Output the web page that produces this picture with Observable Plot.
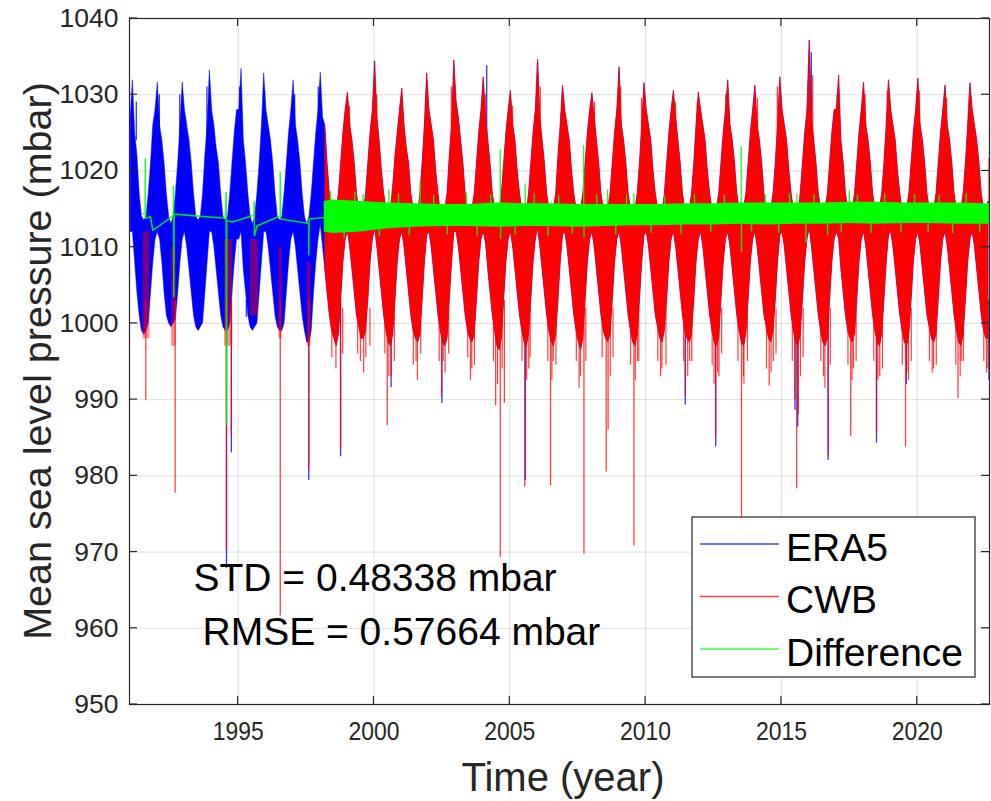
<!DOCTYPE html>
<html><head><meta charset="utf-8">
<script src="https://cdn.jsdelivr.net/npm/d3@7"></script>
<script src="https://cdn.jsdelivr.net/npm/@observablehq/plot@0.6"></script>
<style>body{margin:0;background:#fff}#chart{width:991px;height:801px}</style>
</head><body><div id="chart"></div>
<script>
// ---------- tick labels / texts ----------
const xTicks = [1995, 2000, 2005, 2010, 2015, 2020];
const yTicks = [950, 960, 970, 980, 990, 1000, 1010, 1020, 1030, 1040];
const xLabel = "Time (year)";
const yLabel = "Mean sea level pressure (mbar)";
const statLines = ["STD = 0.48338 mbar", "RMSE = 0.57664 mbar"];
const seriesNames = ["ERA5", "CWB", "Difference"];

// ---------- ERA5 before CWB record (monthly upper / lower envelope, Jan..Dec) ----------
const era5Years = [1991, 1992, 1993, 1994, 1995, 1996, 1997, 1998];
const era5Hi = [
  [1027,1031.9,1025,1022,1017,1014,1013.5,1014,1017,1021,1026,1028],
  [1031.6,1026,1024,1021,1017,1014,1013,1014,1017,1021,1026,1031.6],
  [1028,1026,1024,1021,1017,1014,1013.5,1014,1017,1022,1026,1033.2],
  [1028,1026,1023,1021,1017,1014,1013.5,1014,1017,1021,1025,1028],
  [1028,1033.4,1024,1021,1017,1014,1013,1014,1017,1021,1026,1032.8],
  [1028,1026,1024,1021,1017,1014,1013.5,1014,1017,1021,1025,1028],
  [1031.9,1026,1024,1021,1017,1014,1013,1014,1017,1021,1025,1028],
  [1032.9,1027]
];
const era5Lo = [
  [1012,1012,1008,1004,1001,999,998.5,999,1000,1004,1008,1011],
  [1012,1011,1008,1004,1001,1000,999.5,1000,1000.5,1004,1008,1011],
  [1012,1010,1007,1004,1001,999.5,999,999.5,1000,1004,1008,1012],
  [1012,1010,1007,1004,1001,999.5,999,999,1000,1004,1008,1011],
  [1011,1012,1007,1004,1001,999.5,999,999.5,1000,1004,1008,1012],
  [1012,1010,1007,1004,1001,999.5,999,999,1000,1004,1008,1011],
  [1012,1010,1007,1004,1001,999,997.5,997.5,999,1004,1008,1011],
  [1013,1010]
];
// ERA5 extremes that reach beyond CWB: [year, mbar]
const era5Spikes = [[1991.55,1001],[1992.5,1002],[1993.4,1001],[1993.55,1000],[1994.57,967.8],[1994.75,983.0],
  [1995.3,1000.8],[1995.5,1002],[1996.5,1002],[1997.55,999.6],[1997.6,979.4],[1998.77,982.5],[2000.63,991.6],
  [2002.5,989.5],[2005.57,979.4],[2011.46,989.3],[2012.58,983.8],[2015.5,988.6],[2015.6,986.4],[2016.72,982.0],
  [2018.5,984.3],[2019.6,992.0],[2022.64,992.5]];
const era5Peaks = [[1991.25,1029],[1992.1,1030],[1992.85,1030],[1993.85,1031],[1995.05,1031],[1995.97,1030.5],
  [1997.08,1030],[1997.95,1031],[2000.02,1034.4],[2004.15,1033.8],[2006.02,1034.2],[2016.1,1035.5]];

// ---------- CWB (monthly upper / lower envelope, Jan..Dec) ----------
const cwbYears = [1998,1999,2000,2001,2002,2003,2004,2005,2006,2007,2008,2009,2010,2011,2012,2013,2014,2015,2016,2017,2018,2019,2020,2021,2022];
const cwbHi = [
  [null,null,1026,1021,1017,1015,1014,1015,1017,1021,1025,1028],
  [1030.3,1026,1024,1021,1017,1014.5,1014,1014.5,1017,1021,1025,1028],
  [1034.2,1027,1024,1020,1017,1015,1014,1015,1018,1022,1025,1028],
  [1030.8,1026,1023,1021,1017,1015,1014,1014.5,1017,1021,1026,1032.8],
  [1028,1026,1024,1020,1017,1014.5,1014,1015,1017,1022,1026,1034.5],
  [1029,1027,1024,1021,1017,1015,1014,1015,1017,1021,1025,1028],
  [1032.3,1027,1024,1021,1017,1015,1014.5,1015,1017,1021,1025,1028],
  [1030.5,1026,1024,1020,1017,1015,1014,1014.5,1017,1021,1025,1028],
  [1034.6,1027,1024,1021,1017,1015,1014,1015,1017,1022,1026,1031.2],
  [1028,1026,1024,1020,1017,1015,1014,1015,1017,1021,1025,1028],
  [1030.2,1027,1024,1021,1017,1015,1014,1015,1017,1021,1025,1028],
  [1033.6,1026,1024,1021,1017,1015,1014,1015,1017,1021,1026,1031.5],
  [1028,1026,1024,1020,1017,1015,1014,1014.5,1017,1021,1025,1028],
  [1030.5,1027,1024,1021,1017,1015,1014,1015,1017,1021,1026,1030.3],
  [1028,1026,1024,1020,1017,1015,1014,1015,1017,1021,1025,1028],
  [1031.9,1026,1024,1021,1017,1015,1014,1015,1017,1021,1025,1028],
  [1031.2,1026,1024,1021,1017,1015,1014,1015,1017,1021,1026,1032.3],
  [1028,1026,1024,1020,1017,1015,1014,1014.5,1017,1021,1025,1028],
  [1037.1,1027,1024,1021,1017,1015,1014,1015,1017,1021,1025,1028],
  [1028,1032.5,1024,1021,1017,1015,1014,1015,1017,1021,1025,1028],
  [1031.6,1026,1024,1021,1017,1015,1014,1015,1017,1021,1026,1031.9],
  [1028,1026,1024,1020,1017,1015,1014,1015,1017,1021,1025,1028],
  [1032.1,1026,1024,1021,1017,1015,1014,1015,1017,1021,1025,1028],
  [1031.2,1026,1024,1021,1017,1015,1014,1015,1017,1021,1026,1031.5],
  [1028,1026,1024,1021,1017,1015,1014.5,1016,null,null,null,null]
];
const cwbLo = [
  [null,null,1007,1004,1001,999,998,997,998.5,1003,1008,1011],
  [1012,1010,1007,1004,1001,999.5,998,998,999,1003,1008,1011],
  [1012.5,1010,1007,1004,1001,999,997.5,997,998.5,1003,1008,1011],
  [1012,1010,1007,1004,1001,999,998,997.5,998.5,1003,1008,1011.5],
  [1012,1010,1007,1004,1001,999,997.5,997,998,1003,1008,1012],
  [1012,1010,1007,1004,1001,999,998,997.5,998.5,1003,1008,1011],
  [1012,1010.5,1007,1004,1001,999,997,996.5,998,1003,1008,1011],
  [1012,1010,1007,1004,1001,999,997.5,997,998.5,1003,1008,1011],
  [1012.5,1010,1007,1004,1001,999,997.5,997,998.5,1003,1008,1011.5],
  [1012,1010,1007,1004,1001,999,997.5,996.5,998,1003,1008,1011],
  [1012,1010,1007,1004,1001,999,998,997.5,998.5,1003,1008,1011],
  [1012,1010,1007,1004,1001,999,997.5,997,998.5,1003,1008,1011.5],
  [1012,1010,1007,1004,1001,999.5,998,997.5,999,1003,1008,1011],
  [1012,1010,1007,1004,1001,999,998,997.5,998.5,1003,1008,1011],
  [1012,1010,1007,1004,1001,999,997.5,997,998,1003,1008,1011],
  [1012,1010,1007,1004,1001,999,997.5,997,998.5,1003,1008,1011],
  [1012,1010,1007,1004,1001,999.5,998,997.5,999,1003,1008,1011.5],
  [1012,1010,1007,1004,1001,999,997.5,997,998.5,1003,1008,1011],
  [1012.5,1010,1007,1004,1001,999,997.5,997,998,1003,1008,1011],
  [1012,1011,1007,1004,1001,999,998,997.5,998.5,1003,1008,1011],
  [1012,1010,1007,1004,1001,999,997.5,997,998.5,1003,1008,1011.5],
  [1012,1010,1007,1004,1001,999,997.5,997,998.5,1003,1008,1011],
  [1012,1010,1007,1004,1001,999.5,998,997.5,998.5,1003,1008,1011],
  [1012,1010,1007,1004,1001,999,997.5,997,998.5,1003,1008,1011],
  [1012,1010,1007,1004,1001,999,998,998,null,null,null,null]
];
// sparse CWB records before 1998: [start, end, low, high]
const cwbEarly = [[1991.50,1991.75,998,1012],[1992.55,1992.72,997,1010],[1994.50,1994.80,997,1011],
  [1995.45,1995.75,1001,1011],[1996.50,1996.62,998,1010],[1997.55,1997.68,997,1008]];
// CWB typhoon dips: [year, mbar]
const cwbSpikes = [[1991.6,989.9],[1992.68,977.7],[1994.57,970.2],[1994.75,985.3],[1996.55,961.6],[1997.6,980.7],
  [1998.77,983.6],[1999.5,995],[2000.49,986.6],[2000.63,993],[2001.55,995],[2002.49,990.3],[2002.55,995],[2003.6,994],
  [2004.48,989.2],[2004.65,969.3],[2004.8,989.5],[2005.55,978.5],[2005.7,994],[2006.5,978.7],[2006.6,995],
  [2007.6,993],[2007.73,969.7],[2008.55,980.5],[2008.62,986],[2009.57,970.8],[2009.7,995],[2010.6,994],
  [2011.46,990.5],[2011.7,995],[2012.58,985],[2012.7,993],[2013.53,973],[2013.6,993],[2014.55,991.8],[2014.7,995],
  [2015.5,990],[2015.56,978.3],[2015.62,988],[2016.55,993],[2016.72,982.6],[2017.55,985.2],[2017.65,994],
  [2018.5,985.5],[2018.62,993],[2019.57,983.8],[2019.62,993.5],[2020.6,994],[2021.5,990.1],[2021.62,995],[2022.6,994]];
// CWB smaller dips below the seasonal trough: [year, mbar]
const cwbDips = [[1998.45,995.5],[1998.6,994],[1998.85,996],[1999.4,996],[1999.62,993.5],[1999.7,995.5],[1999.85,997],
  [2000.4,996],[2000.55,993],[2000.75,995],[2001.45,994.5],[2001.6,992.5],[2001.72,996],[2002.4,995],[2002.62,993.5],
  [2002.75,996],[2003.45,995.5],[2003.55,992.5],[2003.7,994.5],[2004.4,995],[2004.55,992],[2004.72,994],
  [2005.45,995],[2005.62,992.5],[2005.75,995.5],[2006.4,995],[2006.55,992.5],[2006.7,994.5],[2007.45,995],
  [2007.55,991.5],[2007.8,995],[2008.4,995.5],[2008.7,993],[2008.8,995.5],[2009.45,994.5],[2009.62,992.5],
  [2009.75,995],[2010.45,995],[2010.55,993],[2010.75,994.5],[2011.4,995],[2011.55,993],[2011.62,995],
  [2012.45,994.5],[2012.52,992],[2012.65,993.5],[2012.8,996],[2013.4,995],[2013.62,992],[2013.75,995],
  [2014.45,994],[2014.62,993.5],[2014.8,996],[2015.4,995],[2015.7,993],[2015.8,995.5],[2016.45,995],
  [2016.6,991.5],[2016.8,994.5],[2017.45,994.5],[2017.6,992.5],[2017.75,995],[2018.4,995],[2018.55,992.5],
  [2018.72,994],[2019.45,994.5],[2019.68,992.5],[2019.78,995],[2020.45,995],[2020.55,993.5],[2020.7,994.5],
  [2021.42,994.5],[2021.58,993],[2021.7,995],[2022.45,995],[2022.55,993.5]];
// CWB needles near the winter maxima: [year, mbar]
const cwbUpSpikes = [[1999.1,1028.5],[2000.1,1030],[2001.9,1029],[2002.85,1031],[2004.1,1030],[2005.1,1028.5],
  [2006.12,1031],[2006.92,1029],[2008.12,1029],[2009.08,1031],[2009.85,1029.5],[2011.1,1029],[2011.9,1029],
  [2012.95,1030],[2014.12,1029.5],[2014.85,1031],[2016.15,1032.5],[2017.05,1030],[2018.08,1030],[2018.9,1030.5],
  [2020.08,1030.5],[2021.08,1029.5],[2021.92,1030],[2022.64,1021.6]];

// ---------- Difference (offset to ~1014 mbar) ----------
const diffEarly = [[1991.50,1014.4],[1991.58,1014.4],[1991.58,1021.6],[1991.59,1013.8],[1991.77,1014.0],[1991.86,1012.2],
  [1992.45,1013.7],[1992.62,1014.2],[1992.62,1018.0],[1992.63,1003.5],[1992.64,1014.3],[1992.75,1014.3],
  [1994.53,1013.8],[1994.56,1017.2],[1994.57,986.8],[1994.58,1013.5],[1994.78,1013.3],[1995.58,1014.2],
  [1995.59,1016.0],[1995.60,1011.5],[1995.7,1012.8],[1996.55,1014.1],[1996.55,1019.8],[1996.56,1013.7],
  [1997.6,1013.1],[1997.6,1009.0],[1997.61,1013.7],[1998.17,1013.9]];
const diffT  = [1998.17,1998.5,1999.5,2000.5,2001.5,2002.5,2003.5,2004.5,2005.5,2006.5,2007.5,2008.5,2009.5,2010.5,2011.5,2012.5,2013.5,2014.5,2015.5,2016.5,2017.5,2018.5,2019.5,2020.5,2021.5,2022.5,2022.66];
const diffLo = [1012.0,1011.8,1012.0,1012.4,1012.6,1012.7,1012.7,1012.6,1012.7,1012.7,1012.6,1012.7,1012.8,1012.8,1012.9,1012.9,1013.0,1012.9,1013.0,1013.0,1013.1,1013.0,1013.1,1013.1,1013.0,1013.0,1013.0];
const diffHi = [1016.0,1016.2,1016.0,1015.8,1015.7,1015.6,1015.6,1015.8,1015.7,1015.7,1015.6,1015.6,1015.6,1015.6,1015.7,1015.7,1015.8,1015.8,1015.8,1015.8,1015.9,1015.9,1015.8,1015.8,1015.8,1015.7,1015.7];
const diffSpikes = [[1999.3,1017.2],[2000.55,1017.5],[2001.7,1018.7],[2004.65,1022.7],[2004.66,1011.0],[2005.57,1018.3],
  [2007.72,1023.3],[2007.73,1011.2],[2008.6,1017.5],[2009.57,1017.0],[2013.52,1023.1],[2013.53,1009.3],
  [2015.57,1016.9],[2015.9,1010.5],[2017.5,1017.4],[2016.7,1011.5],
  [1998.4,1017.3],[1998.9,1011.2],[1999.6,1016.9],[2000.2,1011.4],[2000.9,1017],[2001.3,1011.5],[2002.2,1016.8],
  [2002.7,1011.6],[2003.4,1017.2],[2003.8,1011.5],[2004.3,1016.9],[2005.2,1011.6],[2005.9,1017],[2006.4,1011.4],
  [2006.8,1016.8],[2007.3,1011.7],[2008.2,1016.9],[2008.9,1011.6],[2009.3,1016.8],[2010.2,1011.8],[2010.7,1016.7],
  [2011.3,1011.7],[2011.8,1016.9],[2012.4,1011.9],[2012.9,1016.8],[2013.9,1012],[2014.4,1016.9],[2014.9,1011.8],
  [2015.3,1017],[2016.2,1016.9],[2017.2,1011.9],[2017.8,1016.8],[2018.3,1011.8],[2018.8,1017],[2019.4,1011.9],
  [2019.9,1016.9],[2020.4,1011.9],[2020.8,1016.8],[2021.3,1011.8],[2021.8,1017],[2022.3,1011.9]];

// ---------- build tables ----------
function monthly(years, hi, lo) {
  const rows = [];
  years.forEach((yr, i) => hi[i].forEach((h, m) => {
    if (h != null && lo[i][m] != null) rows.push({t: yr + (m + 0.5) / 12, hi: h, lo: lo[i][m]});
  }));
  return rows;
}
const cwbRows = monthly(cwbYears, cwbHi, cwbLo);
const era5Rows = monthly(era5Years, era5Hi, era5Lo).concat(cwbRows);
const diffRows = diffT.map((t, i) => ({t, lo: diffLo[i], hi: diffHi[i]}));

const BLUE = "#0000ff", RED = "#ff0000", GREEN = "#00ff00", INK = "#262626";
const FONT = "'Liberation Sans', Arial, Helvetica, sans-serif";

const plot = Plot.plot({
  width: 991, height: 801,
  marginTop: 18, marginRight: 2, marginBottom: 97, marginLeft: 129,
  style: {fontFamily: FONT, background: "white", overflow: "visible"},
  x: {domain: [1991, 2022.66]},
  y: {domain: [950, 1040]},
  marks: [
    Plot.gridX(xTicks, {stroke: "#000", strokeOpacity: 0.13}),
    Plot.gridY(yTicks, {stroke: "#000", strokeOpacity: 0.13}),
    // ERA5
    Plot.areaY(era5Rows, {x: "t", y1: "lo", y2: "hi", fill: BLUE, stroke: BLUE, strokeWidth: 1, strokeOpacity: 0.5}),
    Plot.ruleX(era5Spikes, {x: d => d[0], y1: 1003, y2: d => d[1], stroke: BLUE, strokeWidth: 1.3, strokeOpacity: 0.8}),
    Plot.ruleX(era5Peaks, {x: d => d[0], y1: 1024, y2: d => d[1], stroke: BLUE, strokeWidth: 1.3, strokeOpacity: 0.8}),
    // CWB
    Plot.rect(cwbEarly, {x1: d => d[0], x2: d => d[1], y1: d => d[2], y2: d => d[3], fill: RED, fillOpacity: 0.45}),
    Plot.areaY(cwbRows, {x: "t", y1: "lo", y2: "hi", fill: RED, stroke: RED, strokeWidth: 1, strokeOpacity: 0.45}),
    Plot.ruleX(cwbDips, {x: d => d[0], y1: 1002, y2: d => d[1], stroke: RED, strokeWidth: 1.2, strokeOpacity: 0.75}),
    Plot.ruleX(cwbSpikes, {x: d => d[0], y1: 1003, y2: d => d[1], stroke: RED, strokeWidth: 1.3, strokeOpacity: 0.75}),
    Plot.ruleX(cwbUpSpikes, {x: d => d[0], y1: 1014, y2: d => d[1], stroke: RED, strokeWidth: 1.3, strokeOpacity: 0.75}),
    // Difference
    Plot.line(diffEarly, {x: d => d[0], y: d => d[1], stroke: GREEN, strokeWidth: 1.6, strokeOpacity: 0.85}),
    Plot.areaY(diffRows, {x: "t", y1: "lo", y2: "hi", fill: GREEN}),
    Plot.ruleX(diffSpikes, {x: d => d[0], y1: 1014, y2: d => d[1], stroke: GREEN, strokeWidth: 1.4, strokeOpacity: 0.85}),
    // stats text
    Plot.text([statLines[0]], {frameAnchor: "top-left", dx: 64, dy: 560, textAnchor: "start", lineAnchor: "middle", fontSize: 39, fill: "#000"}),
    Plot.text([statLines[1]], {frameAnchor: "top-left", dx: 73, dy: 614, textAnchor: "start", lineAnchor: "middle", fontSize: 39, fill: "#000"}),
    Plot.frame({stroke: INK, strokeWidth: 1.2}),
    Plot.axisX(xTicks, {anchor: "bottom", tickSize: 0, tickPadding: 17, fontSize: 26.5, color: INK, label: null, tickFormat: d => String(d)}),
    Plot.axisY(yTicks, {anchor: "left", tickSize: 0, tickPadding: 11, fontSize: 26.5, color: INK, label: null, tickFormat: d => String(d)})
  ]
});

document.getElementById("chart").appendChild(plot);

// inward ticks, axis titles and legend drawn with the plot's own scales
const sx = plot.scale("x"), sy = plot.scale("y");
const [xl, xr] = sx.range, [yb, yt] = sy.range;
const svg = d3.select(plot);
const g = svg.append("g").attr("stroke", INK).attr("stroke-width", 1.2);
xTicks.forEach(v => {
  const px = sx.apply(v);
  g.append("line").attr("x1", px).attr("x2", px).attr("y1", yb).attr("y2", yb - 8);
  g.append("line").attr("x1", px).attr("x2", px).attr("y1", yt).attr("y2", yt + 8);
});
yTicks.forEach(v => {
  const py = sy.apply(v);
  g.append("line").attr("x1", xl).attr("x2", xl + 8).attr("y1", py).attr("y2", py);
  g.append("line").attr("x1", xr).attr("x2", xr - 8).attr("y1", py).attr("y2", py);
});
svg.selectAll('[aria-label="x-axis tick label"] text').attr("textLength", 51).attr("lengthAdjust", "spacingAndGlyphs");

svg.append("text").text(xLabel).attr("x", (xl + xr) / 2 + 4).attr("y", 791)
  .attr("text-anchor", "middle").attr("font-size", 40).attr("fill", INK).attr("font-family", FONT);
svg.append("text").text(yLabel).attr("transform", `translate(51,${(yb + yt) / 2}) rotate(-90)`)
  .attr("text-anchor", "middle").attr("font-size", 39.5).attr("fill", INK).attr("font-family", FONT);

const leg = svg.append("g").attr("font-family", FONT);
leg.append("rect").attr("x", 692).attr("y", 517).attr("width", 283).attr("height", 160)
  .attr("fill", "white").attr("stroke", INK).attr("stroke-width", 1.2);
[BLUE, RED, GREEN].forEach((c, i) => {
  const ly = 544 + i * 52.5;
  leg.append("line").attr("x1", 700).attr("x2", 779).attr("y1", ly).attr("y2", ly)
    .attr("stroke", c).attr("stroke-width", 1.5).attr("stroke-opacity", 0.75);
  leg.append("text").text(seriesNames[i]).attr("x", 786).attr("y", ly + 3).attr("dy", "0.35em")
    .attr("text-anchor", "start").attr("font-size", 39).attr("fill", "#000");
});
</script>
</body></html>
